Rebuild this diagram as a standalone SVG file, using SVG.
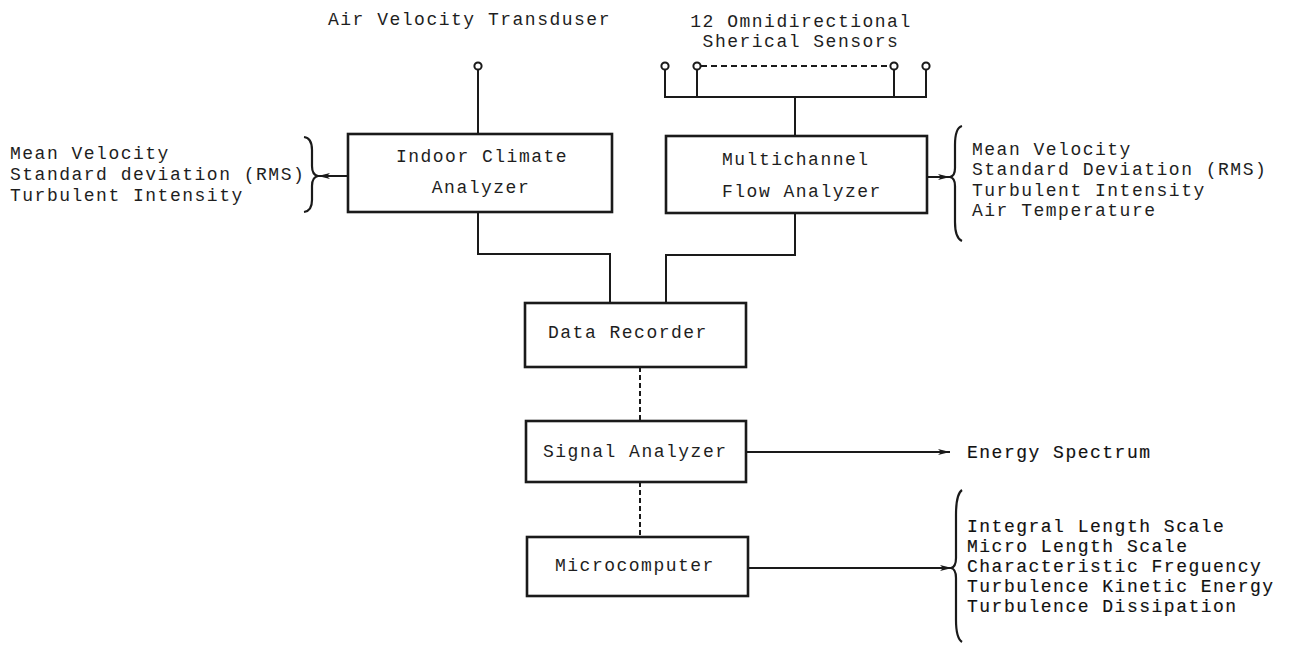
<svg xmlns="http://www.w3.org/2000/svg" width="1295" height="649" viewBox="0 0 1295 649">
<defs>
<style>
.t{font-family:"Liberation Mono","Courier New",monospace;font-size:18px;letter-spacing:1.5px;fill:#1e1e1e}
.d{fill:#111;stroke:#111;stroke-width:0.15}
.box{fill:#fff;stroke:#1a1a1a;stroke-width:2.6}
.ln{fill:none;stroke:#1a1a1a;stroke-width:2}
.dot{fill:none;stroke:#1a1a1a;stroke-width:2;stroke-dasharray:5,3}
.br{fill:none;stroke:#1a1a1a;stroke-width:2.2}
.pin{fill:#fff;stroke:#1a1a1a;stroke-width:2}
</style>
<marker id="ah" viewBox="0 0 12 6" refX="12" refY="3" markerWidth="12" markerHeight="6" markerUnits="userSpaceOnUse" orient="auto">
<path d="M0,0 L12,3 L0,6 L3,3 Z" fill="#1a1a1a"/>
</marker>
</defs>
<rect width="1295" height="649" fill="#fff"/>

<g id="labels-top">
<text class="t" x="328" y="25">Air Velocity Transduser</text>
<text class="t" x="801" y="27" text-anchor="middle">12 Omnidirectional</text>
<text class="t" x="801" y="47" text-anchor="middle">Sherical Sensors</text>
</g>

<g id="connectors">
<line class="ln" x1="478" y1="70" x2="478" y2="134"/>
<path class="ln" d="M665,70 V97 H926 V70 M697,70 V97 M894,70 V97 M795,97 V136"/>
<line class="ln" x1="701" y1="66" x2="890" y2="66" stroke-dasharray="6,4"/>
<path class="ln" d="M478,212 V254 H610 V303"/>
<path class="ln" d="M795,213 V255 H666 V303"/>
<line class="dot" x1="640" y1="367" x2="640" y2="421"/>
<line class="dot" x1="640" y1="482" x2="640" y2="537"/>
<line class="ln" x1="348" y1="176" x2="318" y2="176" marker-end="url(#ah)"/>
<line class="ln" x1="927" y1="177" x2="950" y2="177" marker-end="url(#ah)"/>
<line class="ln" x1="746" y1="452" x2="950" y2="452" marker-end="url(#ah)"/>
<line class="ln" x1="748" y1="568" x2="952" y2="568" marker-end="url(#ah)"/>
</g>

<g id="sensors">
<circle class="pin" cx="478" cy="66" r="3.6"/>
<circle class="pin" cx="665" cy="66" r="3.6"/>
<circle class="pin" cx="697" cy="66" r="3.6"/>
<circle class="pin" cx="894" cy="66" r="3.6"/>
<circle class="pin" cx="926" cy="66" r="3.6"/>
</g>

<g id="indoor-climate-analyzer">
<rect class="box" x="348" y="134" width="264" height="78"/>
<text class="t" x="482" y="162" text-anchor="middle">Indoor Climate</text>
<text class="t" x="481" y="193" text-anchor="middle">Analyzer</text>
</g>

<g id="multichannel-flow-analyzer">
<rect class="box" x="666" y="136" width="261" height="77"/>
<text class="t" x="722" y="165">Multichannel</text>
<text class="t" x="722" y="197">Flow Analyzer</text>
</g>

<g id="data-recorder">
<rect class="box" x="525" y="303" width="221" height="64"/>
<text class="t" x="548" y="338">Data Recorder</text>
</g>

<g id="signal-analyzer">
<rect class="box" x="526" y="421" width="220" height="61"/>
<text class="t" x="543" y="457">Signal Analyzer</text>
</g>

<g id="microcomputer">
<rect class="box" x="527" y="537" width="221" height="59"/>
<text class="t" x="555" y="571">Microcomputer</text>
</g>

<g id="left-outputs">
<path class="br" d="M304,137 Q312,138 312,150 L312,166 Q312,175 318,176 Q312,177 312,186 L312,200 Q312,211 304,212"/>
<text class="t" x="10" y="159">Mean Velocity</text>
<text class="t" x="10" y="180">Standard deviation (RMS)</text>
<text class="t" x="10" y="201">Turbulent Intensity</text>
</g>

<g id="right-outputs">
<path class="br" d="M962,126 Q955,128 955,145 L955,168 Q955,176 950,177 Q955,178 955,186 L955,222 Q955,238 962,241"/>
<text class="t" x="972" y="155">Mean Velocity</text>
<text class="t" x="972" y="175">Standard Deviation (RMS)</text>
<text class="t" x="972" y="196">Turbulent Intensity</text>
<text class="t" x="972" y="216">Air Temperature</text>
</g>

<g id="energy-spectrum">
<text class="t d" x="967" y="458">Energy Spectrum</text>
</g>

<g id="micro-outputs">
<path class="br" d="M962,490 Q956,494 956,515 L956,558 Q956,567 951,568 Q956,569 956,578 L956,620 Q956,638 962,642"/>
<text class="t d" x="967" y="532">Integral Length Scale</text>
<text class="t d" x="967" y="552">Micro Length Scale</text>
<text class="t d" x="967" y="572">Characteristic Freguency</text>
<text class="t d" x="967" y="592">Turbulence Kinetic Energy</text>
<text class="t d" x="967" y="612">Turbulence Dissipation</text>
</g>
</svg>
